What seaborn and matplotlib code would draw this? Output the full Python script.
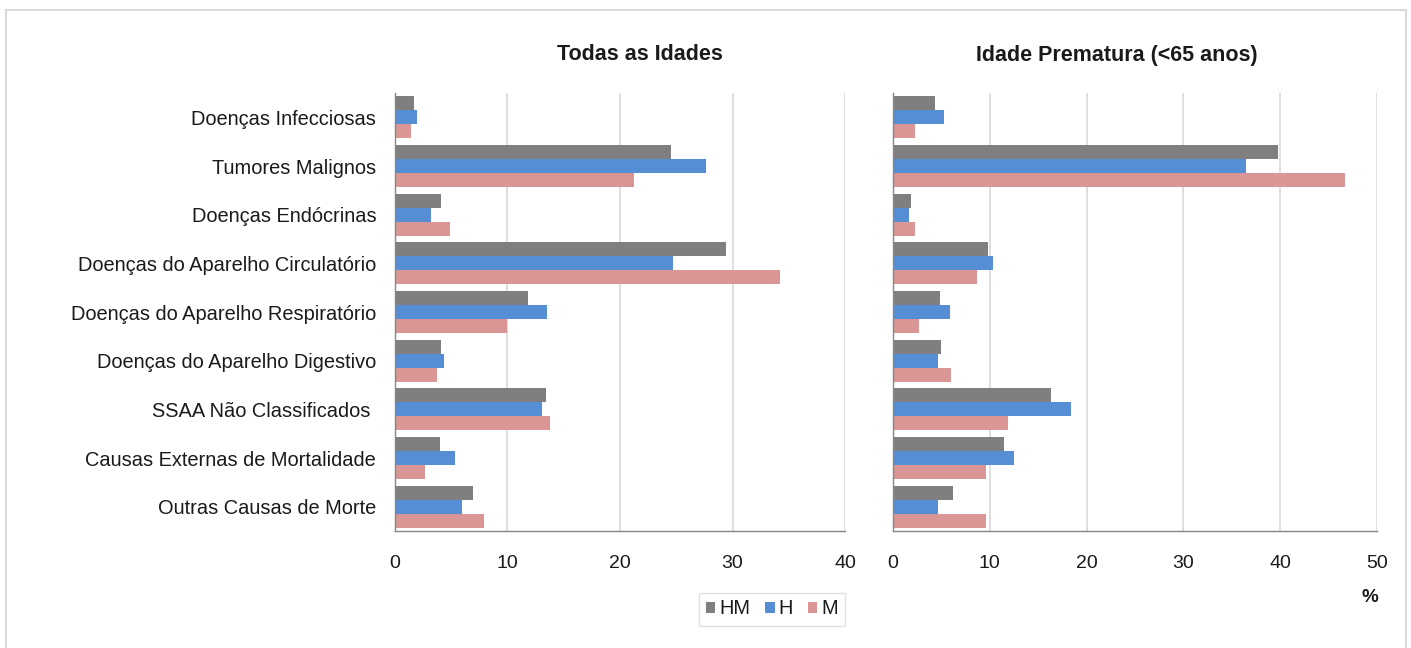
import matplotlib
matplotlib.use("Agg")
import matplotlib.pyplot as plt
import seaborn as sns
import pandas as pd
from matplotlib.patches import Rectangle
from matplotlib.ticker import FixedLocator

sns.set_theme(style="white")
plt.rcParams['font.family'] = ['Liberation Sans', 'DejaVu Sans']

categories = [
    "Doenças Infecciosas",
    "Tumores Malignos",
    "Doenças Endócrinas",
    "Doenças do Aparelho Circulatório",
    "Doenças do Aparelho Respiratório",
    "Doenças do Aparelho Digestivo",
    "SSAA Não Classificados ",
    "Causas Externas de Mortalidade",
    "Outras Causas de Morte",
]
groups = ["HM", "H", "M"]

todas_hm = [1.7, 24.5, 4.05, 29.4, 11.8, 4.05, 13.4, 4.0, 6.9]
todas_h = [2.0, 27.6, 3.2, 24.7, 13.5, 4.4, 13.05, 5.3, 6.0]
todas_m = [1.45, 21.25, 4.85, 34.2, 10.0, 3.7, 13.8, 2.7, 7.9]

prem_hm = [4.3, 39.8, 1.85, 9.8, 4.9, 5.0, 16.3, 11.5, 6.2]
prem_h = [5.25, 36.5, 1.7, 10.3, 5.9, 4.6, 18.4, 12.45, 4.6]
prem_m = [2.25, 46.7, 2.25, 8.7, 2.7, 5.95, 11.9, 9.6, 9.6]

titles = ["Todas as Idades", "Idade Prematura (<65 anos)"]
xticks_left = [0, 10, 20, 30, 40]
xticks_right = [0, 10, 20, 30, 40, 50]

palette = {"HM": "#7F7F7F", "H": "#558ED5", "M": "#D99694"}


def long_df(hm, h, m):
    rows = []
    for g, vals in zip(groups, [hm, h, m]):
        for c, v in zip(categories, vals):
            rows.append({"cat": c, "grp": g, "val": v})
    return pd.DataFrame(rows)


W, H = 1411, 648
fig = plt.figure(figsize=(W / 100, H / 100), dpi=100)

ax_top, ax_bot = 93, 531
axL = fig.add_axes([395 / W, 1 - ax_bot / H, (845 - 395) / W, (ax_bot - ax_top) / H])
axR = fig.add_axes([893 / W, 1 - ax_bot / H, (1377 - 893) / W, (ax_bot - ax_top) / H])

grid_c = "#D9D9D9"
spine_c = "#868686"
text_c = "#1a1a1a"

for ax, df, xt, show_labels in [
    (axL, long_df(todas_hm, todas_h, todas_m), xticks_left, True),
    (axR, long_df(prem_hm, prem_h, prem_m), xticks_right, False),
]:
    sns.barplot(data=df, y="cat", x="val", hue="grp", hue_order=groups,
                order=categories, orient="h", palette=palette, width=0.86,
                linewidth=0, saturation=1, ax=ax)
    if ax.get_legend() is not None:
        ax.get_legend().remove()
    ax.set_xlim(xt[0], xt[-1])
    ax.set_ylim(len(categories) - 0.5, -0.5)
    ax.set_xticks(xt)
    ax.set_xticklabels([str(v) for v in xt], fontsize=14, color=text_c)
    ax.xaxis.grid(True, color=grid_c, linewidth=1.2)
    ax.set_axisbelow(True)
    ax.set_xlabel("")
    ax.set_ylabel("")
    ax.set_yticks(range(len(categories)))
    if show_labels:
        ax.set_yticklabels(categories, fontsize=14.4, color=text_c)
    else:
        ax.set_yticklabels([])
    ax.tick_params(axis="y", which="major", length=0, pad=13.5)
    ax.yaxis.set_minor_locator(FixedLocator([i - 0.5 for i in range(len(categories) + 1)]))
    ax.tick_params(axis="y", which="minor", length=5, width=1, color=spine_c, direction="out")
    ax.tick_params(axis="x", which="major", length=6, width=1, color=spine_c,
                   direction="out", pad=11)
    for s in ["top", "right"]:
        ax.spines[s].set_visible(False)
    for s in ["left", "bottom"]:
        ax.spines[s].set_color(spine_c)
        ax.spines[s].set_linewidth(1)

fig.text(640 / W, 1 - 55 / H, titles[0], ha="center", va="center",
         fontsize=15.5, fontweight="bold", color=text_c)
fig.text(1117 / W, 1 - 55 / H, titles[1], ha="center", va="center",
         fontsize=15.5, fontweight="bold", color=text_c)

fig.text(1370 / W, 1 - 597 / H, "%", ha="center", va="center",
         fontsize=13.5, fontweight="bold", color=text_c)

handles, labels = axL.get_legend_handles_labels()
leg = fig.legend(handles, labels, loc="center", bbox_to_anchor=(772 / W, 1 - 609 / H),
                 ncol=3, fontsize=14.4, frameon=True, fancybox=False,
                 handlelength=0.46, handleheight=0.46, handletextpad=0.2,
                 columnspacing=0.75, borderpad=0.35)
leg.get_frame().set_edgecolor("#D9D9D9")
leg.get_frame().set_linewidth(1)
for t in leg.get_texts():
    t.set_color(text_c)

fig.patches.append(Rectangle((6 / W, -0.02), 1400 / W, 1 - 10 / H + 0.02,
                             transform=fig.transFigure, fill=False,
                             edgecolor="#D9D9D9", linewidth=1.5))

fig.savefig("out.png", dpi=100, facecolor="white")
